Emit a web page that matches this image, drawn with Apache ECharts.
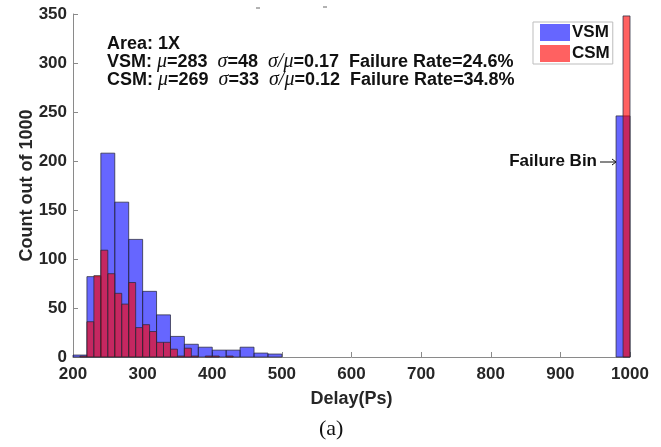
<!DOCTYPE html>
<html>
<head>
<meta charset="utf-8">
<script src="https://cdn.jsdelivr.net/npm/echarts@6/dist/echarts.min.js"></script>
<style>html,body{margin:0;padding:0;background:#fff;}#c{width:661px;height:447px;}</style>
</head>
<body>
<div id="c"></div>
<script>
// VSM histogram bins (20 ps wide), last bin is the failure bin
const vsmBinLo  = [200,220,240,260,280,300,320,340,360,380,400,420,440,460,480,980];
const vsmBinHi  = [220,240,260,280,300,320,340,360,380,400,420,440,460,480,500,1000];
const vsmCounts = [2,82,208,158,120,67,43,21,13,10,7,7,10,4,3,246];
// CSM histogram bins (10 ps wide), last bin is the failure bin
const csmBinLo  = [210,220,230,240,250,260,270,280,290,300,310,320,330,340,350,360,370,390,400,420,990];
const csmBinHi  = [220,230,240,250,260,270,280,290,300,310,320,330,340,350,360,370,380,400,410,430,1000];
const csmCounts = [1,36,83,109,85,65,54,76,30,33,26,15,15,8,1,9,1,1,1,1,348];
const seriesNames = ['VSM','CSM'];
const xTicks = {min:200, max:1000, step:100};
const yTicks = {min:0, max:350, step:50};

function toData(lo, hi, cnt){ return lo.map((v,i)=>[v, hi[i], cnt[i]]); }

function renderBar(params, api){
  const p0 = api.coord([api.value(0), 0]);
  const p1 = api.coord([api.value(1), api.value(2)]);
  return {
    type:'rect',
    shape:{x:p0[0], y:p1[1], width:p1[0]-p0[0], height:p0[1]-p1[1]},
    style:{fill:api.visual('color'), stroke:'rgba(40,40,60,0.75)', lineWidth:1}
  };
}

const chart = echarts.init(document.getElementById('c'), null, {renderer:'canvas'});
const boldFont = 'Liberation Sans';
const richI = {i:{fontFamily:'Liberation Serif', fontStyle:'italic', fontWeight:'normal', fontSize:20, fill:'#111'}};
const opt = {
  animation:false,
  grid:{left:73, right:31, top:14, bottom:90},
  xAxis:{type:'value', min:xTicks.min, max:xTicks.max, interval:xTicks.step,
    name:'Delay(Ps)', nameLocation:'middle', nameGap:33,
    nameTextStyle:{fontFamily:boldFont, fontWeight:'bold', fontSize:18, color:'#262626'},
    axisLine:{lineStyle:{color:'#8a8a8a'}},
    axisTick:{inside:true, length:5, lineStyle:{color:'#8a8a8a'}},
    axisLabel:{fontFamily:boldFont, fontWeight:'bold', fontSize:17, color:'#262626', margin:9,
      formatter:v=>String(v)},
    splitLine:{show:false}},
  yAxis:{type:'value', min:yTicks.min, max:yTicks.max, interval:yTicks.step,
    name:'Count out of 1000', nameLocation:'middle', nameGap:37, nameMoveOverlap:false,
    nameTextStyle:{fontFamily:boldFont, fontWeight:'bold', fontSize:18, color:'#262626'},
    axisLine:{show:true, lineStyle:{color:'#8a8a8a'}},
    axisTick:{show:true, inside:true, length:5, lineStyle:{color:'#8a8a8a'}},
    axisLabel:{fontFamily:boldFont, fontWeight:'bold', fontSize:17, color:'#262626', margin:6},
    splitLine:{show:false}},
  legend:{orient:'vertical', left:533, top:22, itemWidth:30, itemHeight:17, itemGap:4,
    icon:'rect', padding:[2,3,2,7], borderColor:'#bdbdbd', borderWidth:1, backgroundColor:'#fff',
    textStyle:{fontFamily:boldFont, fontWeight:'bold', fontSize:17, color:'#111', padding:[0,0,0,-3]},
    data:seriesNames},
  series:[
    {name:seriesNames[0], type:'custom', renderItem:renderBar,
     itemStyle:{color:'rgba(0,0,255,0.6)'}, encode:{x:[0,1], y:2},
     data:toData(vsmBinLo, vsmBinHi, vsmCounts)},
    {name:seriesNames[1], type:'custom', renderItem:renderBar,
     itemStyle:{color:'rgba(255,0,0,0.62)'}, encode:{x:[0,1], y:2},
     data:toData(csmBinLo, csmBinHi, csmCounts)}
  ],
  graphic:[
    {type:'text', left:107, top:35, style:{text:'Area: 1X', font:'bold 18px Liberation Sans', fill:'#111'}},
    {type:'text', left:107, top:52, style:{
      text:'VSM: {i|μ}=283  {i|σ}=48  {i|σ/μ}=0.17  Failure Rate=24.6%',
      font:'bold 18px Liberation Sans', fill:'#111', rich:richI}},
    {type:'text', left:107, top:70, style:{
      text:'CSM: {i|μ}=269  {i|σ}=33  {i|σ/μ}=0.12  Failure Rate=34.8%',
      font:'bold 18px Liberation Sans', fill:'#111', rich:richI}},
    {type:'text', right:64, top:153, style:{text:'Failure Bin', font:'bold 17px Liberation Sans', fill:'#111'}},
    {type:'line', shape:{x1:600, y1:162, x2:616, y2:162}, style:{stroke:'#111', lineWidth:1}},
    {type:'polyline', shape:{points:[[612,159],[616,162],[612,165]]}, style:{stroke:'#111', lineWidth:1, fill:null}},
    {type:'text', left:319, top:418, style:{text:'(a)', font:'22px Liberation Serif', fill:'#111'}},
    {type:'line', shape:{x1:256, y1:8, x2:260, y2:8}, style:{stroke:'#666', lineWidth:1}},
    {type:'line', shape:{x1:323, y1:7, x2:327, y2:7}, style:{stroke:'#666', lineWidth:1}}
  ]
};
chart.setOption(opt);
</script>
</body>
</html>
